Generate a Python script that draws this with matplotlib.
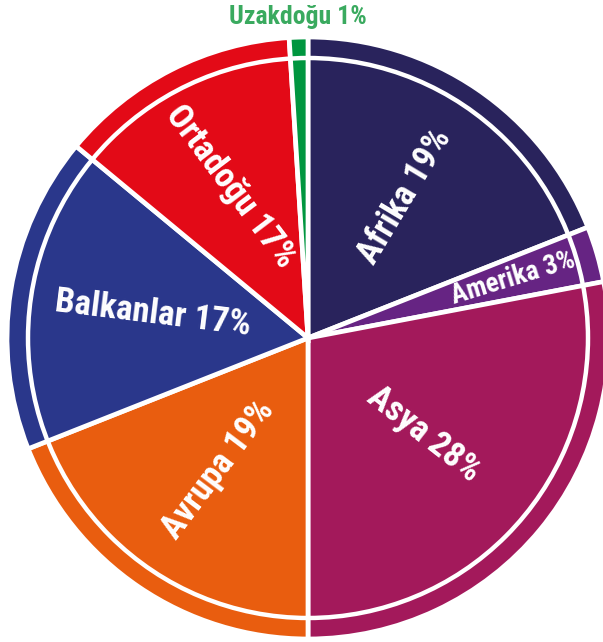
import matplotlib
matplotlib.use("Agg")
import matplotlib.pyplot as plt
from matplotlib import font_manager
from matplotlib.patches import Circle
import numpy as np

# ---- data ----
regions = ["Afrika", "Amerika", "Asya", "Avrupa", "Balkanlar", "Ortadoğu", "Uzakdoğu"]
shares = [19, 3, 28, 19, 17, 13, 1]            # drawn slice sizes
label_pcts = [19, 3, 28, 19, 17, 17, 1]        # percentages printed on the chart
colors = ["#29235C", "#662483", "#A3195B", "#E95D0F", "#2A378B", "#E30A17", "#00963F"]

# ---- style ----
avail = {f.name for f in font_manager.fontManager.ttflist}
family = "DejaVu Sans"
for cand in ["Roboto Condensed", "Liberation Sans Narrow", "Open Sans Condensed", "Roboto"]:
    if cand in avail:
        family = cand
        break

W, H = 603, 642
fig = plt.figure(figsize=(W / 100, H / 100), dpi=100)
ax = fig.add_axes([0, 0, 1, 1])

cx, cy, R = 308, 304, 301
wedges, _ = ax.pie(shares, colors=colors, startangle=90, counterclock=False,
                   center=(cx, cy), radius=R,
                   wedgeprops=dict(edgecolor="white", linewidth=3.4))
ax.add_patch(Circle((cx, cy), 280, fill=False, edgecolor="white", linewidth=3.2, zorder=3))

ax.set_xlim(0, W)
ax.set_ylim(0, H)
ax.set_aspect("equal")
ax.axis("off")

# label placement: radial fraction and text rotation
rfrac = [0.57, 0.71, 0.50, 0.53, 0.52, 0.565, 1.067]
rots = [59, 17, -38, 53, -7, -53, 0]
sizes = [25, 19.5, 25, 25, 25, 25, 18.5]
tcolors = ["white"] * 6 + ["#3AAA5F"]

for w, name, pct, rf, rot, fs, tc in zip(wedges, regions, label_pcts, rfrac, rots, sizes, tcolors):
    mid = np.deg2rad((w.theta1 + w.theta2) / 2)
    x = cx + R * rf * np.cos(mid)
    y = cy + R * rf * np.sin(mid)
    ax.text(x, y, f"{name} {pct}%", rotation=rot, rotation_mode="anchor",
            ha="center", va="center", color=tc, fontsize=fs,
            fontweight="bold", family=family, zorder=5)

fig.savefig("out.png", dpi=100)
